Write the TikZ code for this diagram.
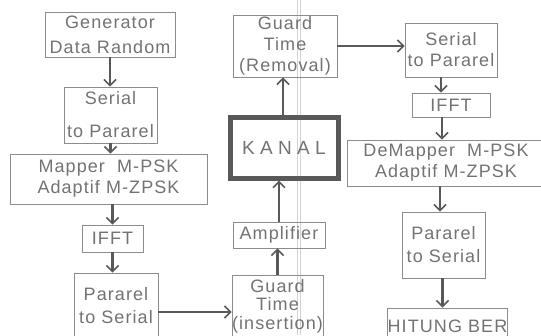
\documentclass[tikz,border=0pt]{standalone}
\usepackage{fontspec}
\newfontfamily\scanfont[LetterSpace=6]{Liberation Sans}
\newfontfamily\kanalfont[LetterSpace=28]{Liberation Sans}
\usetikzlibrary{arrows.meta}
\definecolor{inkgray}{gray}{0.45}
\definecolor{boxgray}{gray}{0.55}
\definecolor{arrowgray}{gray}{0.35}
\begin{document}
\begin{tikzpicture}[x=1pt, y=-1pt,
    every node/.style={font=\scanfont\fontsize{18}{21}\selectfont, text=inkgray},
    blok/.style={draw=boxgray, line width=0.9pt, align=center, inner sep=0pt},
    panah/.style={draw=arrowgray, line width=2.6pt, -{Straight Barb[width=12pt,length=6pt,line width=1.6pt]}}]
    \useasboundingbox (0,0) rectangle (541,335);
    \fill[white] (0,0) rectangle (541,335);
    % lipatan scan
    \draw[gray!35, line width=0.8pt] (297,0) -- (297,335);
    \draw[gray!35, line width=0.8pt] (300.5,0) -- (300.5,335);
    % pemancar
    \node[blok, minimum width=130, minimum height=45] (gen) at (110,34.5) {Generator\\[4pt]Data Random};
    \node[blok, minimum width=93, minimum height=56] (sp) at (110.5,115) {Serial\\[12pt]to Pararel};
    \node[blok, minimum width=197, minimum height=50] (map) at (108.5,179) {Mapper\ \ M-PSK\\Adaptif M-ZPSK};
    \node[blok, minimum width=61, minimum height=27] (ifft) at (112.5,238.5) {IFFT};
    \node[blok, minimum width=84, minimum height=66] (ps) at (116,306) {Pararel\\[2pt]to Serial};
    \node[blok, minimum width=91, minimum height=62,
          font=\scanfont\fontsize{18}{18.5}\selectfont] (gti) at (277.5,306) {Guard\\Time\\(insertion)};
    \node[blok, minimum width=92, minimum height=26] (amp) at (279,235) {Amplifier};
    % kanal
    \node[draw=arrowgray, line width=5pt, minimum width=108, minimum height=61, inner sep=0pt,
          font=\kanalfont\fontsize{19}{21}\selectfont] (kanal) at (284,147.5) {KANAL};
    % penerima
    \node[blok, minimum width=104, minimum height=62] (gtr) at (285,46) {Guard\\Time\\(Removal)};
    \node[blok, minimum width=92, minimum height=54] (sp2) at (451,50) {Serial\\to Pararel};
    \node[blok, minimum width=78, minimum height=24] (ifft2) at (451,105) {IFFT};
    \node[blok, minimum width=198, minimum height=46] (demap) at (446,163) {DeMapper\ \ M-PSK\\Adaptif M-ZPSK};
    \node[blok, minimum width=83, minimum height=66] (ps2) at (443.5,245) {Pararel\\[2pt]to Serial};
    \node[blok, minimum width=115, minimum height=36] (ber) at (447.5,326) {HITUNG BER};
    % panah
    \draw[panah] (gen.south) -- (gen.south |- sp.north);
    \draw[panah] (sp.south) -- (sp.south |- map.north);
    \draw[panah] (ifft.north |- map.south) -- (ifft.north);
    \draw[panah] (ifft.south) -- (ifft.south |- ps.north);
    \draw[panah] ([yshift=-6]ps.east) -- ([yshift=-6]ps.east -| gti.west);
    \draw[panah] (gti.north) -- (gti.north |- amp.south);
    \draw[panah] (amp.north) -- (amp.north |- kanal.south);
    \draw[panah] ([xshift=-1]kanal.north) -- ([xshift=-1]kanal.north |- gtr.south);
    \draw[panah] (gtr.east) -- (gtr.east -| sp2.west);
    \draw[panah] ([xshift=-10]sp2.south) -- ([xshift=-10]sp2.south |- ifft2.north);
    \draw[panah] ([xshift=-9]ifft2.south) -- ([xshift=-9]ifft2.south |- demap.north);
    \draw[panah] ([xshift=-6]demap.south) -- ([xshift=-6]demap.south |- ps2.north);
    \draw[panah] ([xshift=-1]ps2.south) -- ([xshift=-1]ps2.south |- ber.north);
\end{tikzpicture}
\end{document}
